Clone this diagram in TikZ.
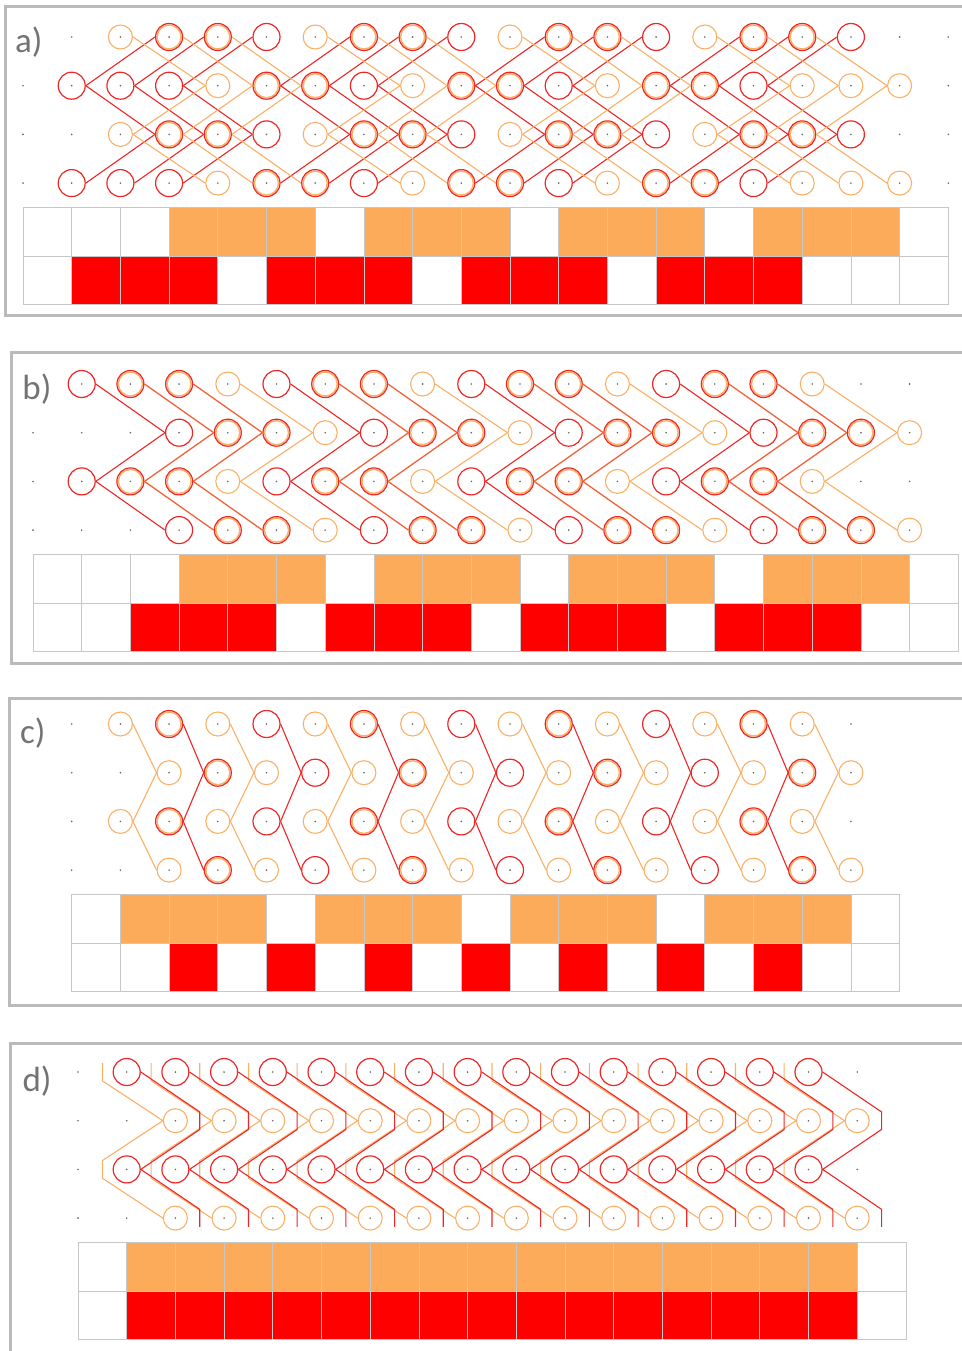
\documentclass[tikz,border=0pt]{standalone}
\usepackage{fontspec}
\setmainfont{Carlito}
\usetikzlibrary{calc}

\definecolor{wred}{RGB}{237,38,38}
\definecolor{worange}{RGB}{250,176,102}
\definecolor{wmix}{RGB}{242,98,58}
\definecolor{cellorange}{RGB}{251,171,89}
\definecolor{cellred}{RGB}{255,0,0}

\begin{document}
\begin{tikzpicture}[x=1pt, y=-1pt,
    knotr/.style={circle, draw=wred, line width=1.2pt, minimum size=27pt, inner sep=0pt},
    knoto/.style={circle, draw=worange, line width=1.1pt, minimum size=24pt, inner sep=0pt},
    knotb/.style={knotr, path picture={\draw[worange, line width=1.4pt] (path picture bounding box.center) circle (12pt);}},
    rthread/.style={draw=wred, line width=1.1pt},
    othread/.style={draw=worange, line width=1.1pt},
    mthread/.style={draw=wmix, line width=1.3pt},
    cell/.style={draw=black!22, line width=0.8pt},
    panel/.style={draw=black!27, line width=3pt},
    tag/.style={text=black!55, inner sep=0pt, font=\fontsize{35}{35}\selectfont}
  ]
  \useasboundingbox (0,0) rectangle (961,1351);

  % a)
  \begin{scope}[shift={(23pt,-37pt)}, x=48.7pt, y=-48.7pt]
    \draw[panel] (-0.35,-0.62) rectangle (20,5.71);
    \node[tag] (taga) at (0.12,0.1) {a)};
    \foreach \i in {1,...,19} \fill[black!60] (\i,0) circle (0.9pt);
    \foreach \r in {1,2,3} \foreach \i in {0,...,19} \fill[black!60] (\i,\r) circle (0.9pt);
    \foreach \k in {0,...,18} {
      \draw[cell] (\k,3.5) rectangle ++(1,1);
      \draw[cell] (\k,4.5) rectangle ++(1,1);
    }
    \foreach \k in {3,4,5,7,8,9,11,12,13,15,16,17}
      \draw[cell, fill=cellorange] (\k,3.5) rectangle ++(1,1);
    \foreach \k in {1,2,3,5,6,7,9,10,11,13,14,15}
      \draw[cell, fill=cellred] (\k,4.5) rectangle ++(1,1);
    \foreach \i/\t in {2/o,3/b,4/b,5/r,6/o,7/b,8/b,9/r,10/o,11/b,12/b,13/r,14/o,15/b,16/b,17/r} {
      \node[knot\t] (a-\i-0) at (\i,0) {};
      \node[knot\t] (a-\i-2) at (\i,2) {};
    }
    \foreach \i/\t in {1/r,2/r,3/r,4/o,5/b,6/b,7/r,8/o,9/b,10/b,11/r,12/o,13/b,14/b,15/r,16/o,17/o,18/o} {
      \node[knot\t] (a-\i-1) at (\i,1) {};
      \node[knot\t] (a-\i-3) at (\i,3) {};
    }
    \foreach \c in {1,2,3,5,6,7,9,10,11,13,14,15} {
      \pgfmathtruncatemacro\d{\c+2}
      \draw[rthread] (a-\c-1.east) -- (a-\d-0.west);
      \draw[rthread] (a-\c-1.east) -- (a-\d-2.west);
      \draw[rthread] (a-\c-3.east) -- (a-\d-2.west);
    }
    \foreach \c in {2,3,4,6,7,8,10,11,12,14,15,16} {
      \pgfmathtruncatemacro\d{\c+2}
      \draw[othread] (a-\c-0.east) -- (a-\d-1.west);
      \draw[othread] (a-\c-2.east) -- (a-\d-1.west);
      \draw[othread] (a-\c-2.east) -- (a-\d-3.west);
    }
  \end{scope}

  % b)
  \begin{scope}[shift={(33pt,-384pt)}, x=48.7pt, y=-48.7pt]
    \draw[panel] (-0.45,-0.64) rectangle (20,5.73);
    \node[tag] (tagb) at (0.08,0.1) {b)};
    \foreach \i in {1,...,18} \fill[black!60] (\i,0) circle (0.9pt);
    \foreach \r in {1,2,3} \foreach \i in {0,...,18} \fill[black!60] (\i,\r) circle (0.9pt);
    \foreach \k in {0,...,18} {
      \draw[cell] (\k,3.5) rectangle ++(1,1);
      \draw[cell] (\k,4.5) rectangle ++(1,1);
    }
    \foreach \k in {3,4,5,7,8,9,11,12,13,15,16,17}
      \draw[cell, fill=cellorange] (\k,3.5) rectangle ++(1,1);
    \foreach \k in {2,3,4,6,7,8,10,11,12,14,15,16}
      \draw[cell, fill=cellred] (\k,4.5) rectangle ++(1,1);
    \foreach \i/\t in {1/r,2/b,3/b,4/o,5/r,6/b,7/b,8/o,9/r,10/b,11/b,12/o,13/r,14/b,15/b,16/o} {
      \node[knot\t] (b-\i-0) at (\i,0) {};
      \node[knot\t] (b-\i-2) at (\i,2) {};
    }
    \foreach \i/\t in {3/r,4/b,5/b,6/o,7/r,8/b,9/b,10/o,11/r,12/b,13/b,14/o,15/r,16/b,17/b,18/o} {
      \node[knot\t] (b-\i-1) at (\i,1) {};
      \node[knot\t] (b-\i-3) at (\i,3) {};
    }
    % thread colour follows the knot it leaves
    \foreach \c/\s in {1/r,2/m,3/m,4/o,5/r,6/m,7/m,8/o,9/r,10/m,11/m,12/o,13/r,14/m,15/m,16/o} {
      \pgfmathtruncatemacro\d{\c+2}
      \draw[\s thread] (b-\c-0.east) -- (b-\d-1.west);
      \draw[\s thread] (b-\c-2.east) -- (b-\d-1.west);
      \draw[\s thread] (b-\c-2.east) -- (b-\d-3.west);
    }
  \end{scope}

  % c)
  \begin{scope}[shift={(23pt,-724pt)}, x=48.7pt, y=-48.7pt]
    \draw[panel] (-0.28,-0.53) rectangle (20,5.79);
    \node[tag] (tagc) at (0.2,0.18) {c)};
    \foreach \r in {0,...,3} \foreach \i in {1,...,17} \fill[black!60] (\i,\r) circle (0.9pt);
    \foreach \k in {1,...,17} {
      \draw[cell] (\k,3.5) rectangle ++(1,1);
      \draw[cell] (\k,4.5) rectangle ++(1,1);
    }
    \foreach \k in {2,3,4,6,7,8,10,11,12,14,15,16}
      \draw[cell, fill=cellorange] (\k,3.5) rectangle ++(1,1);
    \foreach \k in {3,5,7,9,11,13,15}
      \draw[cell, fill=cellred] (\k,4.5) rectangle ++(1,1);
    \foreach \i/\t in {2/o,3/b,4/o,5/r,6/o,7/b,8/o,9/r,10/o,11/b,12/o,13/r,14/o,15/b,16/o} {
      \node[knot\t] (c-\i-0) at (\i,0) {};
      \node[knot\t] (c-\i-2) at (\i,2) {};
    }
    \foreach \i/\t in {3/o,4/b,5/o,6/r,7/o,8/b,9/o,10/r,11/o,12/b,13/o,14/r,15/o,16/b,17/o} {
      \node[knot\t] (c-\i-1) at (\i,1) {};
      \node[knot\t] (c-\i-3) at (\i,3) {};
    }
    \foreach \c/\s in {2/o,3/r,4/o,5/r,6/o,7/r,8/o,9/r,10/o,11/r,12/o,13/r,14/o,15/r,16/o} {
      \pgfmathtruncatemacro\d{\c+1}
      \draw[\s thread] (c-\c-0.east) -- (c-\d-1.west);
      \draw[\s thread] (c-\c-2.east) -- (c-\d-1.west);
      \draw[\s thread] (c-\c-2.east) -- (c-\d-3.west);
    }
  \end{scope}

  % d)
  \begin{scope}[shift={(78pt,-1072pt)}, x=48.7pt, y=-48.7pt]
    \draw[panel] (-1.38,-0.58) rectangle (20,6);
    \node[tag] (tagd) at (-0.84,0.18) {d)};
    \foreach \r in {0,...,3} \foreach \i in {0,...,16} \fill[black!60] (\i,\r) circle (0.9pt);
    \foreach \k in {0,...,16} {
      \draw[cell] (\k,3.5) rectangle ++(1,1);
      \draw[cell] (\k,4.5) rectangle ++(1,1);
    }
    \foreach \k in {1,...,15} {
      \draw[cell, fill=cellorange] (\k,3.5) rectangle ++(1,1);
      \draw[cell, fill=cellred] (\k,4.5) rectangle ++(1,1);
    }
    \foreach \i in {1,...,15} {
      \node[knotr] (d-\i-0) at (\i,0) {};
      \node[knotr] (d-\i-2) at (\i,2) {};
    }
    \foreach \i in {2,...,16} {
      \node[knoto] (d-\i-1) at (\i,1) {};
      \node[knoto] (d-\i-3) at (\i,3) {};
    }
    \foreach \i in {2,...,16}
      \draw[othread] ($(d-\i-1)+(-1.5,-1.18)$) -- ($(d-\i-1)+(-1.5,-0.82)$) -- (d-\i-1.west)
        -- ($(d-\i-1)+(-1.5,0.82)$) -- ($(d-\i-1)+(-1.5,1.18)$) -- (d-\i-3.west);
    \foreach \i in {1,...,15}
      \draw[rthread] (d-\i-0.east) -- ($(d-\i-0)+(1.5,0.82)$) -- ($(d-\i-0)+(1.5,1.18)$) -- (d-\i-2.east)
        -- ($(d-\i-2)+(1.5,0.82)$) -- ($(d-\i-2)+(1.5,1.18)$);
  \end{scope}
\end{tikzpicture}
\end{document}
